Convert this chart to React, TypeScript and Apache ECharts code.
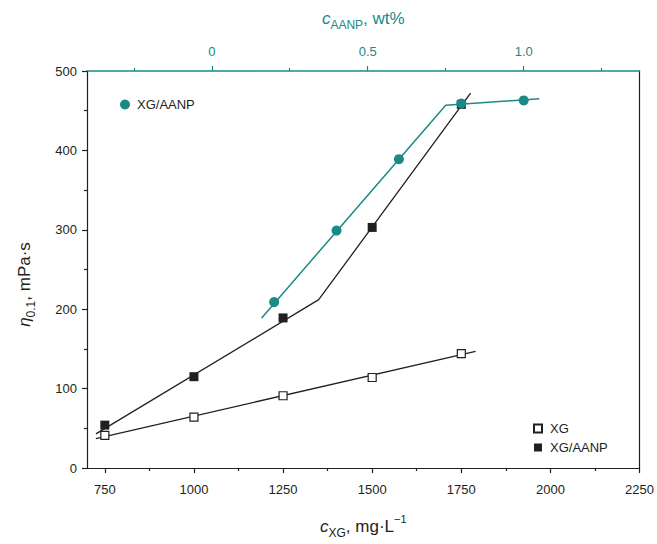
import React, { useEffect, useRef } from "react";
import * as echarts from "echarts";

// ---- data ----
const xgConc = [750, 1000, 1250, 1500, 1750];
const xgVisc = [41, 64, 91, 114, 144];
const xgAanpVisc = [54, 115, 189, 303, 458];
const aanpWt = [0.2, 0.4, 0.6, 0.8, 1.0];
const aanpVisc = [209, 299, 389, 459, 463];

const xgFitX = [725, 1790];
const xgFitY = [37, 147];
const xgAanpFitX = [725, 1350, 1776];
const xgAanpFitY = [43, 212, 472];
const aanpFitX = [0.16, 0.75, 1.05];
const aanpFitY = [189, 457, 465];

const xTicks = [750, 1000, 1250, 1500, 1750, 2000, 2250];
const xMinorTicks = [875, 1125, 1375, 1625, 1875, 2125];
const topTicks = [0, 0.5, 1.0];
const topTickLabels = ["0", "0.5", "1.0"];
const topMinorTicks = [-0.25, 0.25, 0.75, 1.25];

const DARK = "#231f20";
const TEAL = "#1a8a86";
const FONT = 'Arial, "Liberation Sans", sans-serif';

const zip = (a: number[], b: number[]) => a.map((v, i) => [v, b[i]]);

export default function App() {
  const ref = useRef<HTMLDivElement>(null);
  useEffect(() => {
    if (!ref.current) return;
    const chart = echarts.init(ref.current, undefined, { renderer: "svg" });
    const labelStyle = { fontSize: 13, color: DARK, fontFamily: FONT };
    const rich = (color: string) => ({
      i: { fontStyle: "italic", fontSize: 17, lineHeight: 26, color, fontFamily: FONT },
      s: { fontSize: 12, lineHeight: 13, verticalAlign: "bottom", color, fontFamily: FONT },
      n: { fontSize: 17, lineHeight: 26, color, fontFamily: FONT },
      p: { fontSize: 11, lineHeight: 16, verticalAlign: "top", color, fontFamily: FONT },
    });
    chart.setOption({
      animation: false,
      backgroundColor: "#fff",
      grid: { left: 87, right: 17, top: 71, bottom: 68, containLabel: false },
      xAxis: [
        {
          type: "value",
          position: "bottom",
          min: 700,
          max: 2250,
          axisLine: { show: true, onZero: false, lineStyle: { color: DARK, width: 1.2 } },
          axisTick: { show: true, inside: false, length: 5, customValues: xTicks, lineStyle: { color: DARK, width: 1.2 } },
          axisLabel: { show: true, customValues: xTicks, margin: 15, formatter: (v: number) => String(v), ...labelStyle },
          splitLine: { show: false },
          name: "{i|c}{s|XG}{n|, mg·L}{p|−1}",
          nameLocation: "middle",
          nameGap: 45,
          nameTextStyle: { rich: rich(DARK) },
        },
        {
          type: "value",
          position: "bottom",
          min: 700,
          max: 2250,
          axisLine: { show: false, onZero: false },
          axisTick: { show: true, inside: false, length: 3, customValues: xMinorTicks, lineStyle: { color: DARK, width: 1.2 } },
          axisLabel: { show: false },
          splitLine: { show: false },
        },
        {
          type: "value",
          position: "top",
          min: -0.4,
          max: 1.3714,
          axisLine: { show: true, onZero: false, lineStyle: { color: TEAL, width: 1.5 } },
          axisTick: { show: true, inside: false, length: 5, customValues: topTicks, lineStyle: { color: TEAL, width: 1.2 } },
          axisLabel: {
            show: true,
            customValues: topTicks,
            margin: 13,
            formatter: (v: number) => {
              const idx = topTicks.findIndex((t) => Math.abs(t - v) < 1e-6);
              return idx >= 0 ? topTickLabels[idx] : "";
            },
            ...labelStyle,
            color: TEAL,
          },
          splitLine: { show: false },
          name: "{i|c}{s|AANP}{n|, wt%}",
          nameLocation: "middle",
          nameGap: 40,
          nameTextStyle: { rich: rich(TEAL) },
        },
        {
          type: "value",
          position: "top",
          min: -0.4,
          max: 1.3714,
          axisLine: { show: false, onZero: false },
          axisTick: { show: true, inside: false, length: 3, customValues: topMinorTicks, lineStyle: { color: TEAL, width: 1.2 } },
          axisLabel: { show: false },
          splitLine: { show: false },
        },
      ],
      yAxis: [
        {
          type: "value",
          position: "left",
          min: 0,
          max: 500,
          interval: 100,
          axisLine: { show: true, onZero: false, lineStyle: { color: DARK, width: 1.2 } },
          axisTick: { show: true, inside: false, length: 5, lineStyle: { color: DARK, width: 1.2 } },
          minorTick: { show: true, splitNumber: 2, length: 3, lineStyle: { color: DARK, width: 1.2 } },
          axisLabel: { margin: 10, ...labelStyle },
          splitLine: { show: false },
          name: "{i|η}{s|0.1}{n|, mPa·s}",
          nameLocation: "middle",
          nameGap: 50,
          nameRotate: 90,
          nameTextStyle: { rich: rich(DARK), padding: [0, 30, 0, 0] },
        },
        {
          type: "value",
          position: "right",
          min: 0,
          max: 500,
          axisLine: { show: true, onZero: false, lineStyle: { color: DARK, width: 1.2 } },
          axisTick: { show: false },
          axisLabel: { show: false },
          splitLine: { show: false },
        },
      ],
      legend: [
        {
          data: ["XG/AANP (wt%)"],
          left: 115,
          top: 93,
          itemWidth: 10,
          itemHeight: 10,
          selectedMode: false,
          formatter: () => "XG/AANP",
          textStyle: { fontSize: 13, color: DARK, fontFamily: FONT, padding: [0, 0, 0, 2] },
        },
        {
          data: ["XG", "XG/AANP"],
          orient: "vertical",
          left: 528,
          top: 416,
          itemWidth: 8,
          itemHeight: 8,
          itemGap: 4,
          selectedMode: false,
          textStyle: { fontSize: 13, lineHeight: 15, color: DARK, fontFamily: FONT, padding: [0, 0, 0, 3] },
        },
      ],
      series: [
        {
          name: "XG fit",
          type: "line",
          xAxisIndex: 0,
          yAxisIndex: 0,
          data: zip(xgFitX, xgFitY),
          showSymbol: false,
          lineStyle: { color: DARK, width: 1.3 },
          z: 2,
        },
        {
          name: "XG/AANP fit",
          type: "line",
          xAxisIndex: 0,
          yAxisIndex: 0,
          data: zip(xgAanpFitX, xgAanpFitY),
          showSymbol: false,
          lineStyle: { color: DARK, width: 1.3 },
          z: 2,
        },
        {
          name: "XG/AANP wt fit",
          type: "line",
          xAxisIndex: 2,
          yAxisIndex: 0,
          data: zip(aanpFitX, aanpFitY),
          showSymbol: false,
          lineStyle: { color: TEAL, width: 1.5 },
          z: 2,
        },
        {
          name: "XG",
          type: "scatter",
          xAxisIndex: 0,
          yAxisIndex: 0,
          data: zip(xgConc, xgVisc),
          symbol: "rect",
          symbolSize: 8,
          itemStyle: { color: "#fff", borderColor: DARK, borderWidth: 1.2, opacity: 1 },
          z: 3,
        },
        {
          name: "XG/AANP",
          type: "scatter",
          xAxisIndex: 0,
          yAxisIndex: 0,
          data: zip(xgConc, xgAanpVisc),
          symbol: "rect",
          symbolSize: 9,
          itemStyle: { color: DARK, opacity: 1 },
          z: 3,
        },
        {
          name: "XG/AANP (wt%)",
          type: "scatter",
          xAxisIndex: 2,
          yAxisIndex: 0,
          data: zip(aanpWt, aanpVisc),
          symbol: "circle",
          symbolSize: 10,
          itemStyle: { color: TEAL, opacity: 1 },
          z: 4,
        },
      ],
    });
    return () => chart.dispose();
  }, []);
  return (
    <div
      ref={ref}
      style={{ position: "fixed", left: 0, top: 0, width: 657, height: 544, background: "#fff" }}
    />
  );
}
